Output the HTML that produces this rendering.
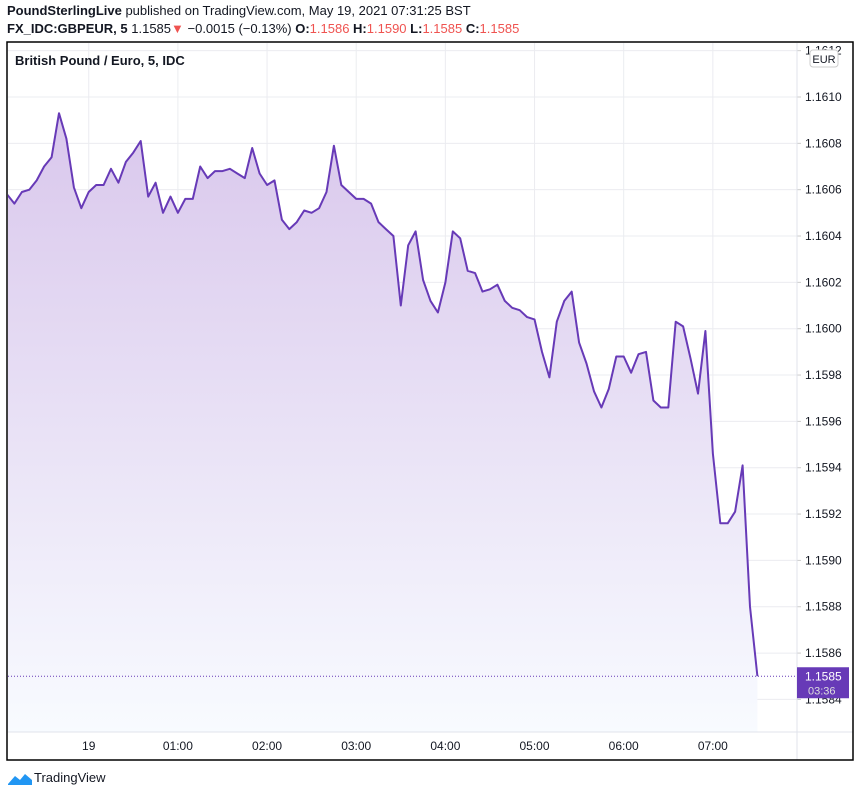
<!DOCTYPE html>
<html><head><meta charset="utf-8"><style>
body{margin:0;background:#fff;font-family:"Liberation Sans",sans-serif;}
#wrap{position:relative;width:860px;height:797px;overflow:hidden;}
.hdr{position:absolute;left:7px;font-size:13px;color:#131722;white-space:nowrap;}
.r{color:#ef5350}
</style></head><body>
<div id="wrap">
<div class="hdr" style="top:3px"><b>PoundSterlingLive</b> published on TradingView.com, May 19, 2021 07:31:25 BST</div>
<div class="hdr" style="top:21px"><b>FX_IDC:GBPEUR, 5</b> 1.1585<span class="r">▼</span> −0.0015 (−0.13%) <b>O:</b><span class="r">1.1586</span> <b>H:</b><span class="r">1.1590</span> <b>L:</b><span class="r">1.1585</span> <b>C:</b><span class="r">1.1585</span></div>
<svg id="chart" width="860" height="797" style="position:absolute;left:0;top:0">
<defs><linearGradient id="g" x1="0" y1="0" x2="0" y2="1">
<stop offset="0" stop-color="#d9c7ec"/><stop offset="1" stop-color="#f8fbff"/></linearGradient>
<clipPath id="cp"><rect x="8" y="43" width="789" height="689"/></clipPath></defs>
<g id="grid"></g>
<g id="series" clip-path="url(#cp)"></g>
<g id="axes"></g>
<rect x="7" y="42" width="846" height="718" fill="none" stroke="#000" stroke-width="1.5"/>
<text x="15" y="65" font-size="13" font-weight="bold" fill="#131722">British Pound / Euro, 5, IDC</text>
</svg>
<svg width="26" height="16" style="position:absolute;left:7px;top:770px"><path d="M1 14 L8 6 L13 10 L18 4 L25 10 L25 15 L1 15Z" fill="#2196f3"/></svg>
<div style="position:absolute;left:34px;top:770px;font-size:13px;color:#131722">TradingView</div>
</div>
<script>
const prices=[1.16058,1.16054,1.16059,1.16060,1.16064,1.16070,1.16074,1.16093,1.16082,1.16061,
1.16052,1.16059,1.16062,1.16062,1.16069,1.16063,1.16072,1.16076,1.16081,1.16057,
1.16063,1.16050,1.16057,1.16050,1.16056,1.16056,1.16070,1.16065,1.16068,1.16068,
1.16069,1.16067,1.16065,1.16078,1.16067,1.16062,1.16064,1.16047,1.16043,1.16046,
1.16051,1.16050,1.16052,1.16059,1.16079,1.16062,1.16059,1.16056,1.16056,1.16054,
1.16046,1.16043,1.16040,1.16010,1.16036,1.16042,1.16021,1.16012,1.16007,1.16020,
1.16042,1.16039,1.16025,1.16024,1.16016,1.16017,1.16019,1.16012,1.16009,1.16008,
1.16005,1.16004,1.15990,1.15979,1.16003,1.16012,1.16016,1.15994,1.15985,1.15973,
1.15966,1.15974,1.15988,1.15988,1.15981,1.15989,1.15990,1.15969,1.15966,1.15966,
1.16003,1.16001,1.15987,1.15972,1.15999,1.15946,1.15916,1.15916,1.15921,1.15941,
1.15880,1.15850];
const timeLabels=["19","01:00","02:00","03:00","04:00","05:00","06:00","07:00"];
const timeIdx=[11,23,35,47,59,71,83,95];
const priceTicks=[1.1612,1.1610,1.1608,1.1606,1.1604,1.1602,1.1600,1.1598,1.1596,1.1594,1.1592,1.1590,1.1588,1.1586,1.1584];
const lastLabel="1.1585", countdown="03:36";

const NS="http://www.w3.org/2000/svg";
const xS=i=>7+i*7.43;
const yS=v=>97+(1.1610-v)*231700;
function mk(t,a,p){const e=document.createElementNS(NS,t);for(const k in a)e.setAttribute(k,a[k]);p.appendChild(e);return e;}
const grid=document.getElementById('grid'),ser=document.getElementById('series'),ax=document.getElementById('axes');
priceTicks.forEach(v=>{const y=yS(v);
 const l=mk('line',{x1:8,x2:797,y1:y,y2:y,stroke:'#ebecf0'},grid);
 
 
 const t=mk('text',{x:805,y:y+4,'font-size':12,fill:'#131722'},ax);t.textContent=v.toFixed(4);
 
 
 mk('line',{x1:797,x2:801,y1:y,y2:y,stroke:'#ccc'},ax);
});
timeIdx.forEach((ix,k)=>{const x=xS(ix);
 const l=mk('line',{x1:x,x2:x,y1:43,y2:732,stroke:'#ebecf0'},grid);
 
 
 const t=mk('text',{x:x,y:750,'font-size':12,fill:'#131722','text-anchor':'middle'},ax);t.textContent=timeLabels[k];
 
 
});
mk('line',{x1:797,x2:797,y1:43,y2:760,stroke:'#e0e3eb'},ax);
mk('line',{x1:8,x2:853,y1:732,y2:732,stroke:'#e0e3eb'},ax);
let d=prices.map((v,i)=>(i?'L':'M')+xS(i).toFixed(1)+' '+yS(v).toFixed(1)).join(' ');
const n=prices.length-1;
const area=mk('path',{d:d+` L${xS(n)} 732 L${xS(0)} 732 Z`,fill:'url(#g)'},ser);


const line=mk('path',{d:d,fill:'none',stroke:'#673ab7','stroke-width':2,'stroke-linejoin':'round'},ser);


const ly=yS(prices[n]);
const dl=mk('line',{x1:8,x2:797,y1:ly,y2:ly,stroke:'#673ab7','stroke-dasharray':'1 2'},ax);


const box=mk('rect',{x:797,y:ly-9,width:52,height:31,fill:'#673ab7'},ax);


const t1=mk('text',{x:805,y:ly+4,'font-size':12,fill:'#fff'},ax);t1.textContent=lastLabel;
const t2=mk('text',{x:808,y:ly+18,'font-size':11,fill:'#ddd'},ax);t2.textContent=countdown;
const eb=mk('rect',{x:810,y:50,width:28,height:17,rx:3,fill:'#fff',stroke:'#ccc'},ax);


const et=mk('text',{x:824,y:63,'font-size':11,fill:'#131722','text-anchor':'middle'},ax);et.textContent='EUR';
</script>
</body></html>
